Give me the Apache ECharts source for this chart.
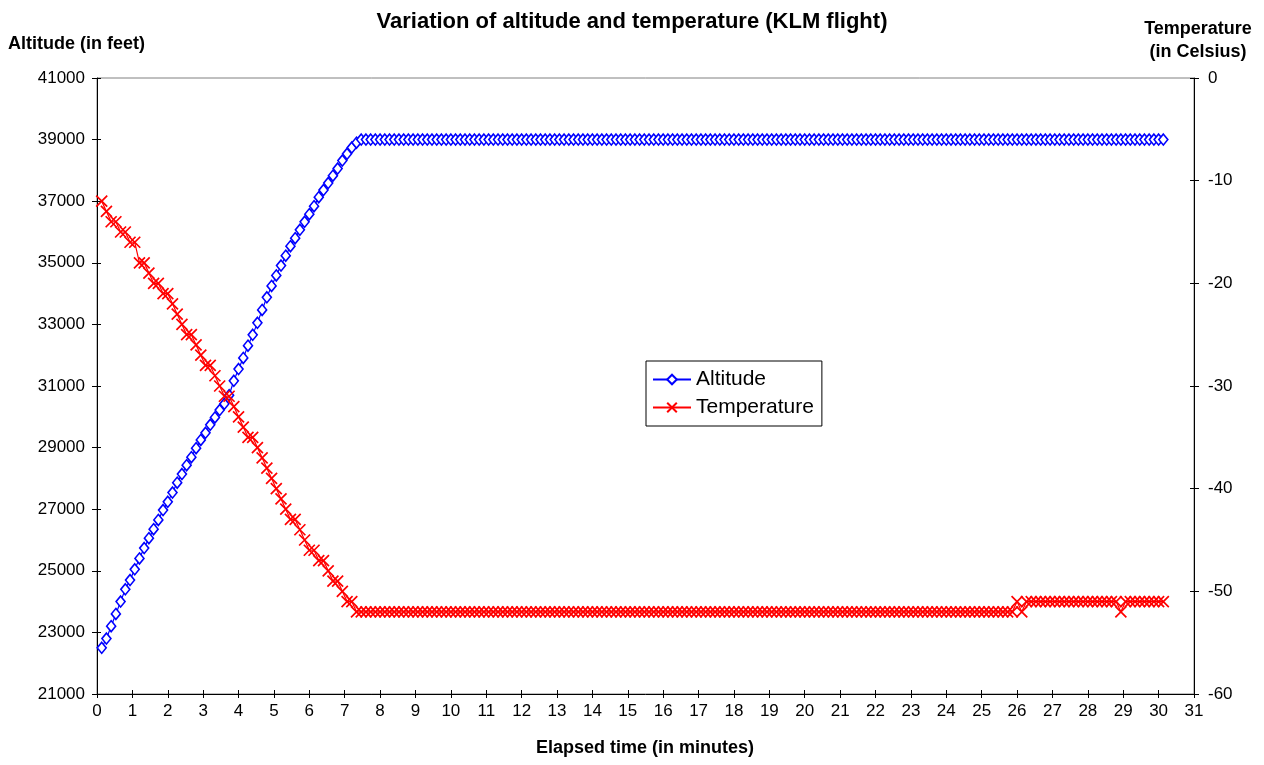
<!DOCTYPE html>
<html>
<head>
<meta charset="utf-8">
<script src="https://cdn.jsdelivr.net/npm/echarts@6/dist/echarts.min.js"></script>
<style>
html,body{margin:0;padding:0;background:#ffffff;}
#chart{width:1264px;height:765px;}
</style>
</head>
<body>
<div id="chart"></div>
<script>
// ---- data ----
const elapsedSeconds = [
  8,16,24,32,40,48,56,64,72,80,
  88,96,104,112,120,128,136,144,152,160,
  168,176,184,192,200,208,216,224,232,240,
  248,256,264,272,280,288,296,304,312,320,
  328,336,344,352,360,368,376,384,392,400,
  408,416,424,432,440,448,456,464,472,480,
  488,496,504,512,520,528,536,544,552,560,
  568,576,584,592,600,608,616,624,632,640,
  648,656,664,672,680,688,696,704,712,720,
  728,736,744,752,760,768,776,784,792,800,
  808,816,824,832,840,848,856,864,872,880,
  888,896,904,912,920,928,936,944,952,960,
  968,976,984,992,1000,1008,1016,1024,1032,1040,
  1048,1056,1064,1072,1080,1088,1096,1104,1112,1120,
  1128,1136,1144,1152,1160,1168,1176,1184,1192,1200,
  1208,1216,1224,1232,1240,1248,1256,1264,1272,1280,
  1288,1296,1304,1312,1320,1328,1336,1344,1352,1360,
  1368,1376,1384,1392,1400,1408,1416,1424,1432,1440,
  1448,1456,1464,1472,1480,1488,1496,1504,1512,1520,
  1528,1536,1544,1552,1560,1568,1576,1584,1592,1600,
  1608,1616,1624,1632,1640,1648,1656,1664,1672,1680,
  1688,1696,1704,1712,1720,1728,1736,1744,1752,1760,
  1768,1776,1784,1792,1800,1808
];

const altitudeFeet = [
  22500,22800,23200,23600,24000,24400,24700,25050,25400,25740,
  26060,26350,26650,26970,27240,27540,27860,28140,28430,28690,
  28980,29250,29480,29740,29980,30220,30420,30700,31170,31550,
  31910,32310,32660,33050,33470,33880,34250,34590,34910,35230,
  35540,35800,36070,36330,36580,36840,37130,37360,37590,37830,
  38060,38320,38540,38740,38900,
  39000,39000,39000,39000,39000,39000,39000,39000,39000,39000,
  39000,39000,39000,39000,39000,39000,39000,39000,39000,39000,
  39000,39000,39000,39000,39000,39000,39000,39000,39000,39000,
  39000,39000,39000,39000,39000,39000,39000,39000,39000,39000,
  39000,39000,39000,39000,39000,39000,39000,39000,39000,39000,
  39000,39000,39000,39000,39000,39000,39000,39000,39000,39000,
  39000,39000,39000,39000,39000,39000,39000,39000,39000,39000,
  39000,39000,39000,39000,39000,39000,39000,39000,39000,39000,
  39000,39000,39000,39000,39000,39000,39000,39000,39000,39000,
  39000,39000,39000,39000,39000,39000,39000,39000,39000,39000,
  39000,39000,39000,39000,39000,39000,39000,39000,39000,39000,
  39000,39000,39000,39000,39000,39000,39000,39000,39000,39000,
  39000,39000,39000,39000,39000,39000,39000,39000,39000,39000,
  39000,39000,39000,39000,39000,39000,39000,39000,39000,39000,
  39000,39000,39000,39000,39000,39000,39000,39000,39000,39000,
  39000,39000,39000,39000,39000,39000,39000,39000,39000,39000,
  39000,39000,39000,39000,39000,39000,39000,39000,39000,39000,
  39000
];

const temperatureC = [
  -12,-13,-14,-14,-15,-15,-16,-16,-18,-18,
  -19,-20,-20,-21,-21,-22,-23,-24,-25,-25,
  -26,-27,-28,-28,-29,-30,-31,-31,-32,-33,
  -34,-35,-35,-36,-37,-38,-39,-40,-41,-42,
  -43,-43,-44,-45,-46,-46,-47,-47,-48,-49,
  -49,-50,-51,-51,
  -52,-52,-52,-52,-52,-52,-52,-52,-52,-52,
  -52,-52,-52,-52,-52,-52,-52,-52,-52,-52,
  -52,-52,-52,-52,-52,-52,-52,-52,-52,-52,
  -52,-52,-52,-52,-52,-52,-52,-52,-52,-52,
  -52,-52,-52,-52,-52,-52,-52,-52,-52,-52,
  -52,-52,-52,-52,-52,-52,-52,-52,-52,-52,
  -52,-52,-52,-52,-52,-52,-52,-52,-52,-52,
  -52,-52,-52,-52,-52,-52,-52,-52,-52,-52,
  -52,-52,-52,-52,-52,-52,-52,-52,-52,-52,
  -52,-52,-52,-52,-52,-52,-52,-52,-52,-52,
  -52,-52,-52,-52,-52,-52,-52,-52,-52,-52,
  -52,-52,-52,-52,-52,-52,-52,-52,-52,-52,
  -52,-52,-52,-52,-52,-52,-52,-52,-52,-52,
  -52,-52,-52,-52,-52,-52,-52,-52,-52,-52,
  -51,-52,
  -51,-51,-51,-51,-51,-51,-51,-51,-51,-51,
  -51,-51,-51,-51,-51,-51,-51,-51,-51,-51,
  -52,
  -51,-51,-51,-51,-51,-51,-51,-51,-51
];

const minuteTicks = [0,1,2,3,4,5,6,7,8,9,10,11,12,13,14,15,16,17,18,19,20,21,22,23,24,25,26,27,28,29,30,31];
const altitudeTicks = [21000,23000,25000,27000,29000,31000,33000,35000,37000,39000,41000];
const temperatureTicks = [-60,-50,-40,-30,-20,-10,0];

const seriesNames = ['Altitude', 'Temperature'];
const chartTitle = 'Variation of altitude and temperature (KLM flight)';
const xAxisTitle = 'Elapsed time (in minutes)';
const leftAxisTitle = 'Altitude (in feet)';
const rightAxisTitle = ['Temperature', '(in Celsius)'];

// ---- build ----
const FONT = "'Liberation Sans', Arial, sans-serif";
const altitudeData = elapsedSeconds.map((s, i) => [s / 60, altitudeFeet[i]]);
const temperatureData = elapsedSeconds.map((s, i) => [s / 60, temperatureC[i]]);

function span(ticks) {
  return { min: ticks[0], max: ticks[ticks.length - 1], interval: ticks[1] - ticks[0] };
}
const xs = span(minuteTicks), ya = span(altitudeTicks), yt = span(temperatureTicks);

const chart = echarts.init(document.getElementById('chart'), null, { renderer: 'canvas' });

const labelStyle = { color: '#000', fontFamily: FONT, fontSize: 17 };

const option = {
  animation: false,
  backgroundColor: '#ffffff',
  title: {
    text: chartTitle,
    left: 'center',
    top: 6,
    textStyle: { color: '#000', fontFamily: FONT, fontSize: 22, fontWeight: 'bold' }
  },
  grid: {
    left: 97, right: 70, top: 78, bottom: 71,
    show: true, borderColor: '#808080', borderWidth: 1, backgroundColor: 'transparent',
    containLabel: false
  },
  legend: {
    orient: 'vertical',
    left: 646, top: 361,
    backgroundColor: '#ffffff',
    borderColor: '#000000', borderWidth: 1,
    padding: [8, 8, 8, 6],
    itemGap: 7,
    itemWidth: 38, itemHeight: 12,
    textStyle: { color: '#000', fontFamily: FONT, fontSize: 21, lineHeight: 21 },
    data: seriesNames
  },
  xAxis: [
    {
      type: 'value', gridIndex: 0, position: 'bottom',
      min: xs.min, max: xs.max, interval: xs.interval,
      axisLine: { show: true, onZero: false, lineStyle: { color: '#000', width: 1 } },
      axisTick: { show: true, inside: false, length: 4, lineStyle: { color: '#000' } },
      axisLabel: Object.assign({ margin: 9, formatter: v => String(v) }, labelStyle),
      splitLine: { show: false }
    },
    {
      type: 'value', gridIndex: 0, position: 'bottom',
      min: xs.min, max: xs.max, interval: xs.interval,
      axisLine: { show: false, onZero: false },
      axisTick: { show: true, inside: true, length: 4, lineStyle: { color: '#000' } },
      axisLabel: { show: false },
      splitLine: { show: false }
    }
  ],
  yAxis: [
    {
      type: 'value', gridIndex: 0, position: 'left',
      min: ya.min, max: ya.max, interval: ya.interval,
      axisLine: { show: true, onZero: false, lineStyle: { color: '#000', width: 1 } },
      axisTick: { show: true, inside: false, length: 5, lineStyle: { color: '#000' } },
      axisLabel: Object.assign({ margin: 12, formatter: v => String(v) }, labelStyle),
      splitLine: { show: false }
    },
    {
      type: 'value', gridIndex: 0, position: 'right',
      min: yt.min, max: yt.max, interval: yt.interval,
      axisLine: { show: true, onZero: false, lineStyle: { color: '#000', width: 1 } },
      axisTick: { show: true, inside: false, length: 5, lineStyle: { color: '#000' } },
      axisLabel: Object.assign({ margin: 14, formatter: v => String(v) }, labelStyle),
      splitLine: { show: false }
    },
    {
      type: 'value', gridIndex: 0, position: 'left',
      min: ya.min, max: ya.max, interval: ya.interval,
      axisLine: { show: false, onZero: false },
      axisTick: { show: true, inside: true, length: 4, lineStyle: { color: '#000' } },
      axisLabel: { show: false },
      splitLine: { show: false }
    },
    {
      type: 'value', gridIndex: 0, position: 'right',
      min: yt.min, max: yt.max, interval: yt.interval,
      axisLine: { show: false, onZero: false },
      axisTick: { show: true, inside: true, length: 4, lineStyle: { color: '#000' } },
      axisLabel: { show: false },
      splitLine: { show: false }
    }
  ],
  series: [
    {
      name: seriesNames[0],
      type: 'line',
      xAxisIndex: 0, yAxisIndex: 0,
      data: altitudeData,
      showAllSymbol: true,
      symbol: 'diamond',
      symbolSize: [9, 11],
      lineStyle: { color: '#0000ff', width: 1.2 },
      itemStyle: { color: '#ffffff', borderColor: '#0000ff', borderWidth: 1.6 },
      emphasis: { disabled: true },
      z: 2
    },
    {
      name: seriesNames[1],
      type: 'line',
      xAxisIndex: 0, yAxisIndex: 1,
      data: temperatureData,
      showAllSymbol: true,
      symbol: 'path://M0,0L10,10M0,10L10,0',
      symbolSize: 11,
      lineStyle: { color: '#ff0000', width: 1.2 },
      itemStyle: { color: '#ff0000', borderColor: '#ff0000', borderWidth: 1.7 },
      emphasis: { disabled: true },
      z: 3
    }
  ],
  graphic: [
    {
      type: 'text', left: 8, top: 35,
      style: { text: leftAxisTitle, fill: '#000', font: "bold 18px 'Liberation Sans', Arial, sans-serif" }
    },
    {
      type: 'text', x: 1198, y: 29,
      style: { text: rightAxisTitle[0], fill: '#000', align: 'center', verticalAlign: 'middle',
               font: "bold 18px 'Liberation Sans', Arial, sans-serif" }
    },
    {
      type: 'text', x: 1198, y: 52,
      style: { text: rightAxisTitle[1], fill: '#000', align: 'center', verticalAlign: 'middle',
               font: "bold 18px 'Liberation Sans', Arial, sans-serif" }
    },
    {
      type: 'text', x: 645, y: 748,
      style: { text: xAxisTitle, fill: '#000', align: 'center', verticalAlign: 'middle',
               font: "bold 18px 'Liberation Sans', Arial, sans-serif" }
    }
  ]
};

chart.setOption(option);
</script>
</body>
</html>
